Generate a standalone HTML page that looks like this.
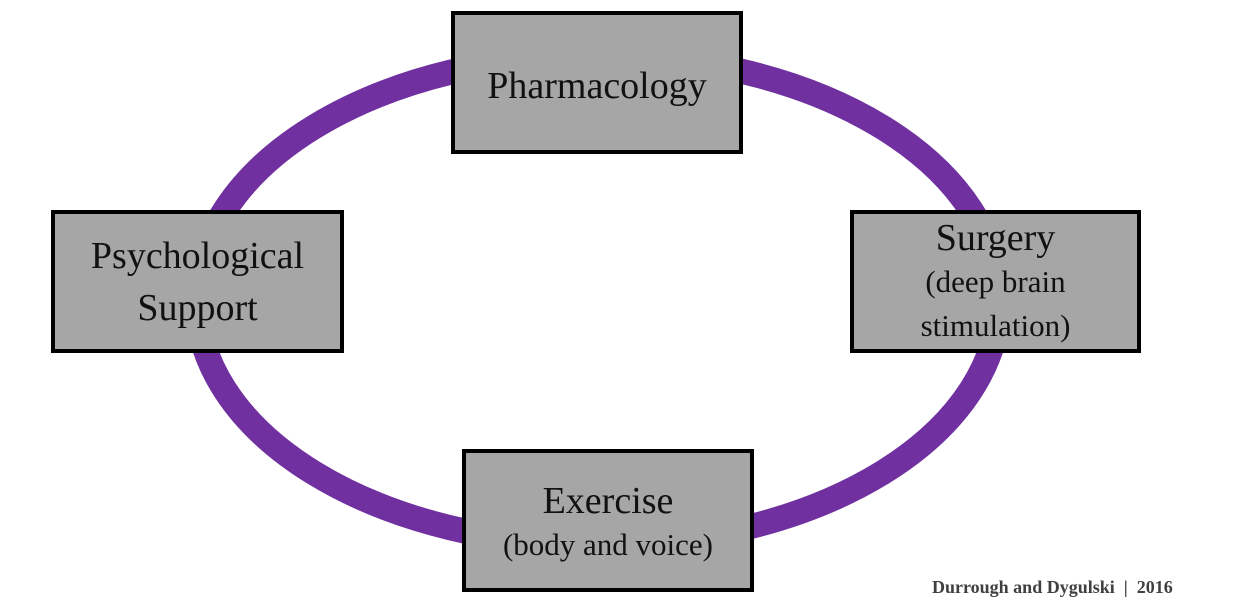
<!DOCTYPE html>
<html><head><meta charset="utf-8"><style>
html,body{margin:0;padding:0;background:#fff;}
body{width:1237px;height:603px;position:relative;overflow:hidden;font-family:"Liberation Serif",serif;}
.b{position:absolute;box-sizing:border-box;border:4px solid #000;background:#a6a6a6;display:flex;flex-direction:column;align-items:center;justify-content:center;color:#111;text-align:center;}
.t{font-size:38px;line-height:50px;}
.s{font-size:31px;line-height:40px;}
</style></head><body>
<svg width="1237" height="603" style="position:absolute;left:0;top:0">
<ellipse cx="598" cy="300" rx="401" ry="245" fill="none" stroke="#7030a0" stroke-width="25"/>
</svg>
<div class="b" style="left:451px;top:11px;width:292px;height:143px;justify-content:flex-start;padding-top:46px"><div class="t" style="line-height:50px">Pharmacology</div></div>
<div class="b" style="left:51px;top:210px;width:293px;height:143px"><div class="t" style="line-height:52px">Psychological<br>Support</div></div>
<div class="b" style="left:850px;top:210px;width:291px;height:143px"><div class="t" style="line-height:44px">Surgery</div><div class="s" style="line-height:44px">(deep brain<br>stimulation)</div></div>
<div class="b" style="left:462px;top:449px;width:292px;height:143px"><div class="t" style="line-height:48px">Exercise</div><div class="s">(body and voice)</div></div>
<div style="position:absolute;left:932px;top:577px;font-size:18px;font-weight:bold;color:#404040;white-space:nowrap;">Durrough and Dygulski &nbsp;| &nbsp;2016</div>
</body></html>
